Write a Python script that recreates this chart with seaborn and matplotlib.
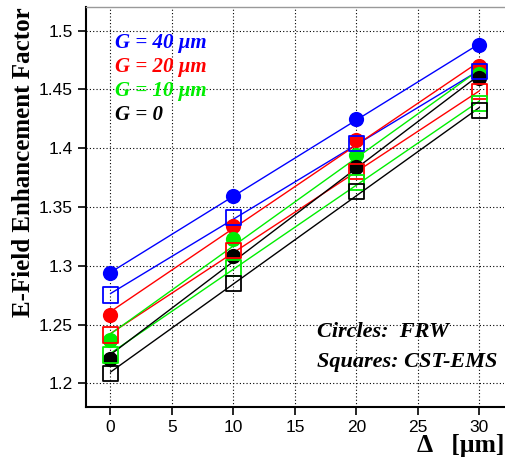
import matplotlib
matplotlib.use("Agg")
import matplotlib.pyplot as plt
import numpy as np
import pandas as pd
import seaborn as sns

# spacing Delta [um]
delta = [0, 10, 20, 30]

# FRW (circles)
frw_g40 = [1.294, 1.359, 1.425, 1.488]
frw_g20 = [1.258, 1.334, 1.407, 1.470]
frw_g10 = [1.237, 1.323, 1.394, 1.463]
frw_g0 = [1.221, 1.308, 1.384, 1.460]

# CST-EMS (squares)
cst_g40 = [1.275, 1.341, 1.404, 1.465]
cst_g20 = [1.241, 1.313, 1.380, 1.448]
cst_g10 = [1.224, 1.298, 1.371, 1.438]
cst_g0 = [1.208, 1.285, 1.363, 1.432]

gaps = ["G = 40 \u03bcm", "G = 20 \u03bcm", "G = 10 \u03bcm", "G = 0"]
colors = ["#0000ff", "#ff0000", "#00ee00", "#000000"]

rows = []
for g, fv, cv in zip(gaps, [frw_g40, frw_g20, frw_g10, frw_g0],
                     [cst_g40, cst_g20, cst_g10, cst_g0]):
    for d, a, b in zip(delta, fv, cv):
        rows.append({"delta": d, "gap": g, "method": "FRW", "E": a})
        rows.append({"delta": d, "gap": g, "method": "CST", "E": b})
df = pd.DataFrame(rows)

sns.set_style("ticks")
plt.rcParams["font.family"] = ["Liberation Sans", "DejaVu Sans"]
plt.rcParams["text.color"] = "black"
plt.rcParams["xtick.color"] = "black"
plt.rcParams["ytick.color"] = "black"

fig = plt.figure(figsize=(5.05, 4.66), dpi=100)
ax = fig.add_axes([0.170, 0.127, 0.828, 0.858])

# fitted lines
for g, c in zip(gaps, colors):
    for m in ["FRW", "CST"]:
        sub = df[(df.gap == g) & (df.method == m)]
        sns.regplot(data=sub, x="delta", y="E", ax=ax, scatter=False, ci=None,
                    truncate=True, color=c, line_kws={"lw": 1.0, "zorder": 2})

# circles then squares
for g, c in zip(gaps, colors):
    sub = df[(df.gap == g) & (df.method == "FRW")]
    sns.scatterplot(data=sub, x="delta", y="E", ax=ax, marker="o", s=120,
                    color=c, edgecolor=c, linewidth=0, zorder=3, legend=False)
for g, c in zip(gaps, colors):
    sub = df[(df.gap == g) & (df.method == "CST")]
    sns.scatterplot(data=sub, x="delta", y="E", ax=ax, marker="s", s=120,
                    facecolor="none", edgecolor=c, linewidth=1.3, zorder=4,
                    legend=False)

ax.set_xlim(-2, 32)
ax.set_ylim(1.18, 1.52)
ax.set_xticks([0, 5, 10, 15, 20, 25, 30])
ax.set_yticks([1.2, 1.25, 1.3, 1.35, 1.4, 1.45, 1.5])
ax.set_yticklabels(["1.2", "1.25", "1.3", "1.35", "1.4", "1.45", "1.5"])
ax.grid(True, color="black", linestyle=(0, (1, 2)), linewidth=0.8)
ax.tick_params(axis="both", direction="out", length=6, width=1.2,
               labelsize=12.5, colors="black")
for side in ["left", "bottom"]:
    ax.spines[side].set_linewidth(1.5)
    ax.spines[side].set_color("black")
ax.spines["top"].set_color("#999999")
ax.spines["top"].set_linewidth(1.0)
ax.spines["right"].set_visible(False)

serif = ["Liberation Serif", "DejaVu Serif"]
ax.set_xlabel("")
ax.set_ylabel("")
fig.text(0.046, 0.985, "E-Field Enhancement Factor", rotation=90, ha="center",
         va="top", fontsize=18, fontweight="bold", family=serif, color="black")
fig.text(0.998, 0.045, "\u0394   [\u03bcm]", ha="right", va="center",
         fontsize=18.5, fontweight="bold", family=serif, color="black")

for i, (g, c) in enumerate(zip(gaps, colors)):
    ax.text(0.069, 0.91 - i * 0.06, g, transform=ax.transAxes, color=c,
            fontsize=15, fontweight="bold", style="italic", family=serif,
            va="center", ha="left")
ax.text(0.553, 0.1875, "Circles:  FRW", transform=ax.transAxes, fontsize=16,
        fontweight="bold", style="italic", family=serif, va="center",
        color="black")
ax.text(0.553, 0.1125, "Squares: CST-EMS", transform=ax.transAxes, fontsize=16,
        fontweight="bold", style="italic", family=serif, va="center",
        color="black")

fig.savefig("out.png", dpi=100)
